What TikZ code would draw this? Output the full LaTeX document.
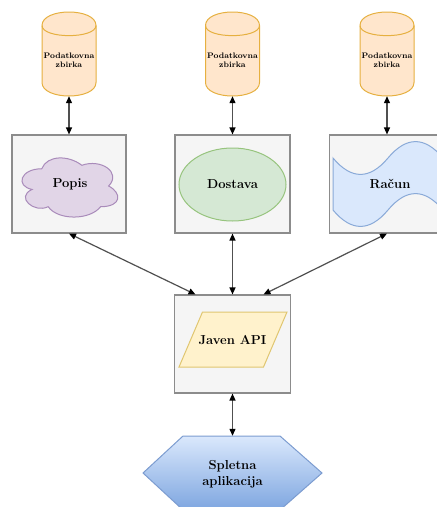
\documentclass[tikz,border=0pt]{standalone}
\usetikzlibrary{arrows.meta,shapes.geometric}
\definecolor{dbfill}{HTML}{FFE6CC}
\definecolor{dbline}{HTML}{E6B040}
\definecolor{boxfill}{HTML}{F5F5F5}
\definecolor{boxline}{HTML}{8C8C8C}
\definecolor{cloudfill}{HTML}{E1D5E7}
\definecolor{cloudline}{HTML}{A98BBA}
\definecolor{ellfill}{HTML}{D5E8D4}
\definecolor{ellline}{HTML}{97C47E}
\definecolor{tapefill}{HTML}{DAE8FC}
\definecolor{tapeline}{HTML}{8AAAD8}
\definecolor{parfill}{HTML}{FFF2CC}
\definecolor{parline}{HTML}{E0C670}
\definecolor{hextop}{HTML}{DAE8FC}
\definecolor{hexbot}{HTML}{7EA6E0}
\definecolor{hexline}{HTML}{7C9CD0}
\definecolor{conncol}{HTML}{505050}
\tikzset{
  x=1pt,y=-1pt,
  holder/.style={rectangle,draw=none,inner sep=0pt},
  graybox/.style={rectangle,draw=boxline,fill=boxfill,line width=1.1pt,inner sep=0pt,minimum height=98pt},
  dbline/.style={draw=dbline,fill=dbfill,line width=1pt},
  dbtext/.style={font=\fontsize{8}{9.5}\selectfont\bfseries,align=center,inner sep=0pt},
  bigtext/.style={font=\fontsize{13}{16}\selectfont\bfseries,align=center,inner sep=0pt},
  conn/.style={draw=conncol,line width=1.2pt,{Triangle[length=7pt,width=6pt,color=black]}-{Triangle[length=7pt,width=6pt,color=black]}},
}
\begin{document}
\begin{tikzpicture}
\useasboundingbox (0,0) rectangle (437,507);
% database cylinders (draw.io style, dy = 13.5)
\foreach \n/\cx in {1/69,2/232.5,3/387}{
  \node[holder,minimum width=54pt,minimum height=84pt] (db\n) at (\cx,54) {};
  \path[dbline] (\cx-27,25.5) .. controls (\cx-27,7.5) and (\cx+27,7.5) .. (\cx+27,25.5)
     -- (\cx+27,82.5) .. controls (\cx+27,100.5) and (\cx-27,100.5) .. (\cx-27,82.5) -- cycle;
  \draw[dbline,fill=none] (\cx-27,25.5) .. controls (\cx-27,39) and (\cx+27,39) .. (\cx+27,25.5);
  \node[dbtext] (dbt\n) at (\cx,60) {Podatkovna\\zbirka};
}
% gray boxes
\node[graybox,minimum width=114pt] (b1) at (69,184) {};
\node[graybox,minimum width=115pt] (b2) at (232.5,184) {};
\node[graybox,minimum width=115pt] (b3) at (387,184) {};
\node[graybox,minimum width=116pt] (jb) at (232.5,344) {};
% cloud (draw.io style)
\begin{scope}[shift={(15,151.5)},x=107pt,y=-69pt]
  \path[draw=cloudline,fill=cloudfill,line width=1pt]
    (0.25,0.25) .. controls (0.05,0.25) and (0,0.5) .. (0.16,0.55)
    .. controls (0,0.66) and (0.18,0.9) .. (0.31,0.8)
    .. controls (0.4,1) and (0.7,1) .. (0.8,0.8)
    .. controls (1,0.8) and (1,0.6) .. (0.875,0.5)
    .. controls (1,0.3) and (0.8,0.1) .. (0.625,0.2)
    .. controls (0.5,0.05) and (0.3,0.05) .. (0.25,0.25) -- cycle;
\end{scope}
\node[bigtext] (popis) at (70,184) {Popis};
% ellipse
\node[ellipse,draw=ellline,fill=ellfill,line width=1pt,minimum width=107pt,minimum height=73pt,inner sep=0pt] (dost) at (232.5,184.5) {};
\node[bigtext] (dostt) at (232.5,184) {Dostava};
% tape
\begin{scope}[shift={(333,142)}]
  \path[draw=tapeline,fill=tapefill,line width=1pt]
    (0,16) .. controls (18.33,37.87) and (36.67,37.87) .. (55,16)
    .. controls (73.33,-5.87) and (91.67,-5.87) .. (110,16)
    -- (110,68)
    .. controls (91.67,46.13) and (73.33,46.13) .. (55,68)
    .. controls (36.67,89.87) and (18.33,89.87) .. (0,68) -- cycle;
\end{scope}
\node[bigtext] (racun) at (390,184) {Račun};
% parallelogram
\path[draw=parline,fill=parfill,line width=1pt] (179,367) -- (202.5,312) -- (287,312) -- (263.5,367) -- cycle;
\node[bigtext] (api) at (232.5,340) {Javen API};
% hexagon
\node[holder,minimum width=179pt,minimum height=74pt] (hex) at (232.5,473) {};
\path[draw=hexline,line width=1pt,top color=hextop,bottom color=hexbot]
  (143,473) -- (183,436) -- (280,436) -- (322,473) -- (280,510) -- (183,510) -- cycle;
\node[bigtext] (spl) at (232.5,474) {Spletna\\aplikacija};
% connectors
\draw[conn] (db1.south) -- (b1.north);
\draw[conn] (db2.south) -- (b2.north);
\draw[conn] (db3.south) -- (b3.north);
\draw[conn] (b1.south) -- ([xshift=-37pt]jb.north);
\draw[conn] (b2.south) -- (jb.north);
\draw[conn] (b3.south) -- ([xshift=31pt]jb.north);
\draw[conn] (jb.south) -- (hex.north);
\end{tikzpicture}
\end{document}
